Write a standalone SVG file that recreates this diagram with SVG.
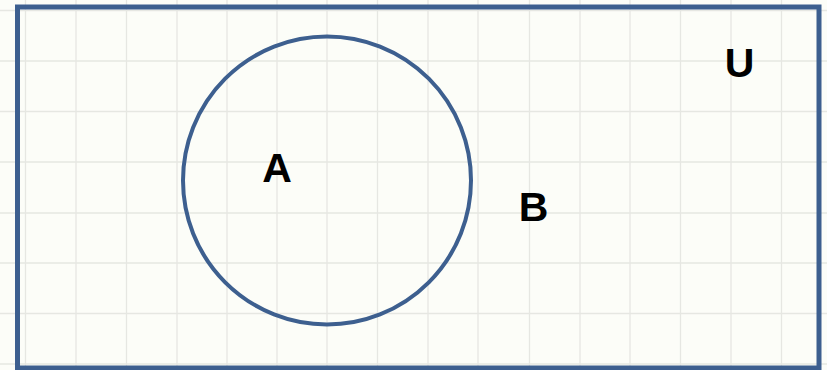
<svg xmlns="http://www.w3.org/2000/svg" width="827" height="370" viewBox="0 0 827 370">
<style>
.grid line{stroke:#e6e7e2;stroke-width:1.3}
.frame{fill:none;stroke:#3d5f8f;stroke-width:5}
.set{fill:none;stroke:#3d5f8f;stroke-width:4}
.lbl{font-family:"Liberation Sans",Arial,sans-serif;font-weight:bold;font-size:41px;fill:#000;text-anchor:middle}
</style>
<rect width="827" height="370" fill="#fcfdf8"/>
<g class="grid">
<line x1="25.5" y1="0" x2="25.5" y2="370"/>
<line x1="76" y1="0" x2="76" y2="370"/>
<line x1="126.5" y1="0" x2="126.5" y2="370"/>
<line x1="177" y1="0" x2="177" y2="370"/>
<line x1="227" y1="0" x2="227" y2="370"/>
<line x1="277" y1="0" x2="277" y2="370"/>
<line x1="327" y1="0" x2="327" y2="370"/>
<line x1="377.5" y1="0" x2="377.5" y2="370"/>
<line x1="428" y1="0" x2="428" y2="370"/>
<line x1="478" y1="0" x2="478" y2="370"/>
<line x1="529.5" y1="0" x2="529.5" y2="370"/>
<line x1="580" y1="0" x2="580" y2="370"/>
<line x1="630" y1="0" x2="630" y2="370"/>
<line x1="680.5" y1="0" x2="680.5" y2="370"/>
<line x1="731" y1="0" x2="731" y2="370"/>
<line x1="781.5" y1="0" x2="781.5" y2="370"/>
<line x1="0" y1="10.5" x2="827" y2="10.5"/>
<line x1="0" y1="61" x2="827" y2="61"/>
<line x1="0" y1="111.5" x2="827" y2="111.5"/>
<line x1="0" y1="162" x2="827" y2="162"/>
<line x1="0" y1="213" x2="827" y2="213"/>
<line x1="0" y1="263" x2="827" y2="263"/>
<line x1="0" y1="313.5" x2="827" y2="313.5"/>
<line x1="0" y1="364" x2="827" y2="364"/>
</g>
<g id="universe">
<rect class="frame" x="17.5" y="7" width="801.5" height="361"/>
<text class="lbl" x="739.5" y="76.5">U</text>
</g>
<g id="setA">
<circle class="set" cx="327" cy="180.5" r="144"/>
<text class="lbl" x="277" y="181.5">A</text>
</g>
<g id="setB">
<text class="lbl" x="533.5" y="220.5">B</text>
</g>
<g id="connectors"/>
</svg>
